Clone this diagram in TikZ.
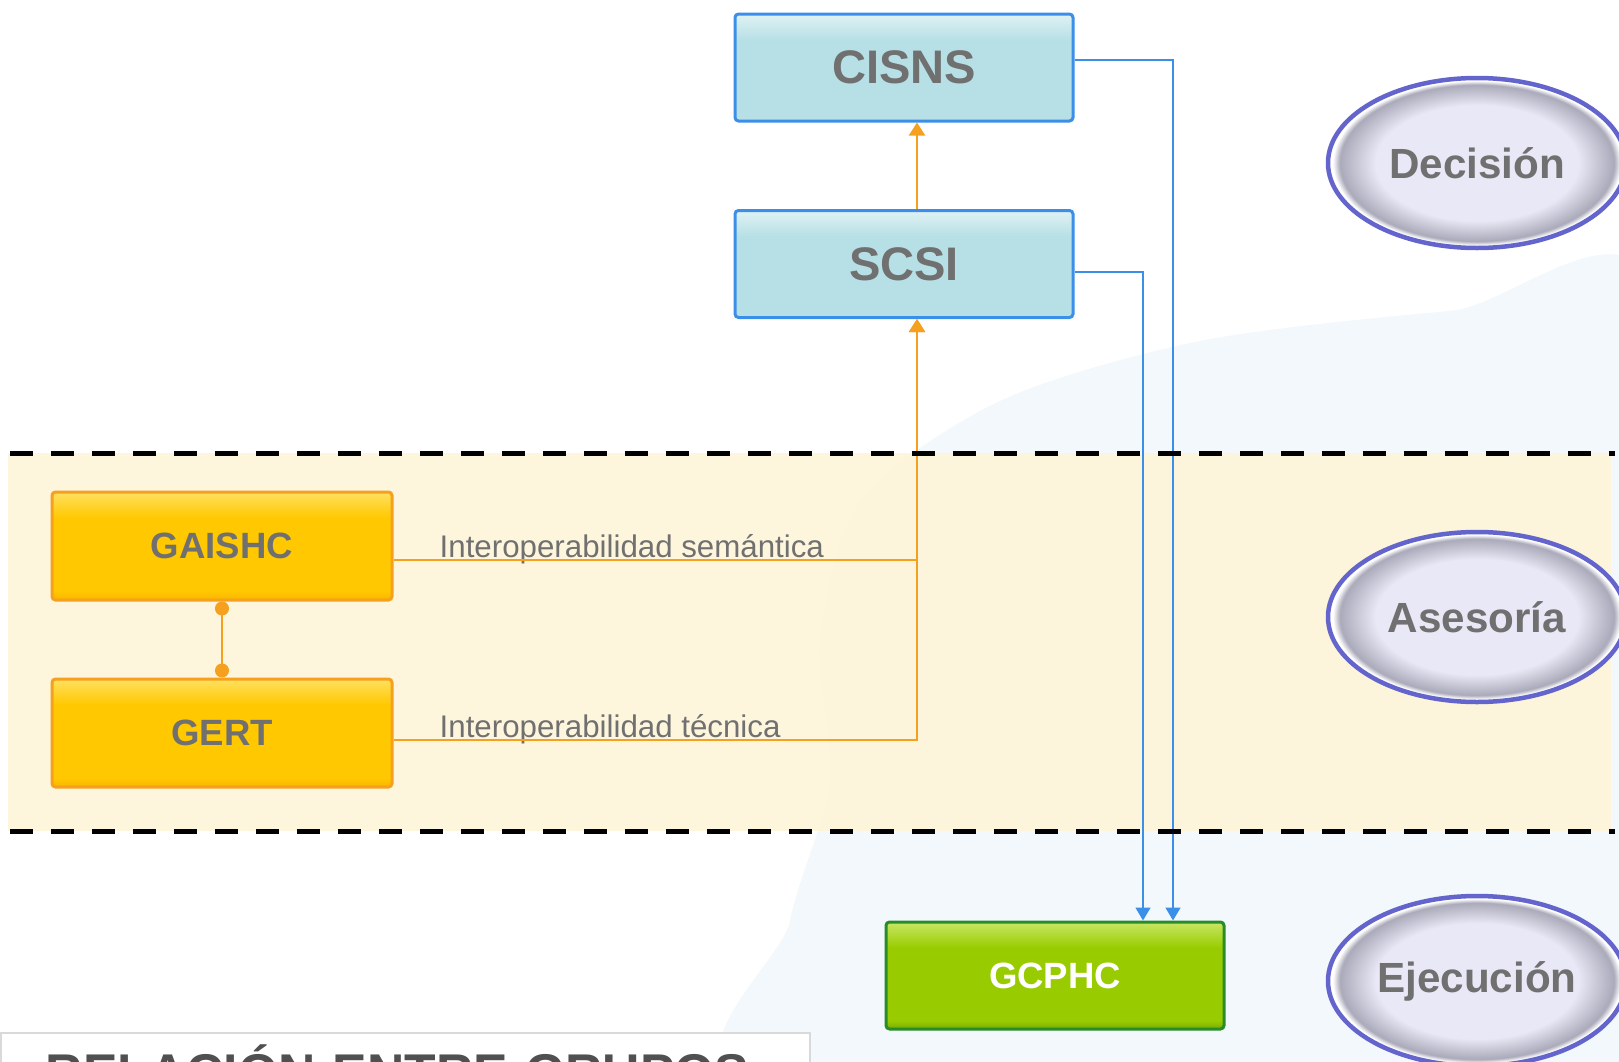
\documentclass[tikz,border=0pt]{standalone}
\usepackage{fontspec}
\setmainfont{Liberation Sans}
\usepackage{tikz}
\usetikzlibrary{arrows.meta,shapes.geometric}
\definecolor{boxgray}{RGB}{112,112,112}
\definecolor{titlegray}{RGB}{80,80,80}
\definecolor{bluefill}{RGB}{183,224,230}
\definecolor{bluetop}{RGB}{224,242,244}
\definecolor{blueline}{RGB}{60,143,232}
\definecolor{goldfill}{RGB}{255,200,0}
\definecolor{goldtop}{RGB}{255,224,96}
\definecolor{goldbottom}{RGB}{250,178,0}
\definecolor{orangeline}{RGB}{245,160,30}
\definecolor{greenfill}{RGB}{153,204,0}
\definecolor{greentop}{RGB}{200,230,100}
\definecolor{greenbottom}{RGB}{118,172,0}
\definecolor{greenline}{RGB}{40,140,40}
\definecolor{bandfill}{RGB}{254,245,216}
\definecolor{ovalfill}{RGB}{232,232,246}
\definecolor{ovalshadow}{RGB}{170,170,186}
\definecolor{ovalline}{RGB}{100,100,205}
\definecolor{mapblue}{RGB}{242,248,251}
\pgfdeclareverticalshading{blueshade}{100bp}{color(0bp)=(bluefill); color(25bp)=(bluefill); color(63bp)=(bluefill); color(75bp)=(bluetop); color(100bp)=(bluetop)}
\pgfdeclareverticalshading{goldshade}{100bp}{color(0bp)=(goldbottom); color(25bp)=(goldbottom); color(29bp)=(goldfill); color(63bp)=(goldfill); color(75bp)=(goldtop); color(100bp)=(goldtop)}
\pgfdeclareverticalshading{greenshade}{100bp}{color(0bp)=(greenbottom); color(25bp)=(greenbottom); color(29bp)=(greenfill); color(63bp)=(greenfill); color(75bp)=(greentop); color(100bp)=(greentop)}
\pgfdeclareradialshading{ovalshade}{\pgfpoint{0bp}{0bp}}{color(0bp)=(ovalfill); color(17bp)=(ovalfill); color(23bp)=(ovalshadow); color(24.2bp)=(white); color(25bp)=(white); color(50bp)=(white)}
\tikzset{group/.style = {rectangle, rounded corners=1pt, line width=0.03cm, minimum width=3.38cm, minimum height=1.07cm, text=boxgray}}
\tikzset{council/.style = {draw=blueline, shade, shading=blueshade, font=\fontsize{13.4}{16}\selectfont\bfseries}}
\tikzset{advisor/.style = {draw=orangeline, shade, shading=goldshade, minimum width=3.40cm, minimum height=1.08cm, font=\fontsize{10.4}{12}\selectfont\bfseries}}
\tikzset{executor/.style = {draw=greenline, shade, shading=greenshade, text=white, font=\fontsize{10.4}{12}\selectfont\bfseries}}
\tikzset{level/.style = {ellipse, draw=ovalline, line width=0.045cm, shade, shading=ovalshade, inner sep=0pt, minimum width=2.98cm, minimum height=1.70cm, text=boxgray, font=\fontsize{12}{14}\selectfont\bfseries}}
\tikzset{linklabel/.style = {anchor=base west, inner sep=0pt, text=boxgray, font=\fontsize{8.9}{10}\selectfont}}
\tikzset{titlebox/.style = {anchor=north west, draw=black!15, fill=white, line width=0.02cm, text width=7.19cm, inner xsep=0.45cm, inner ysep=0.12cm, align=left, text=titlegray, font=\fontsize{14.7}{18}\selectfont\bfseries}}
\tikzset{relation/.style = {draw=orangeline, line width=0.02cm, -{Triangle[width=0.16cm,length=0.13cm]}}}
\tikzset{feedback/.style = {draw=blueline, line width=0.015cm, -{Triangle[width=0.15cm,length=0.13cm]}}}
\tikzset{boundary/.style = {line width=0.05cm, dash pattern=on 0.23cm off 0.18cm}}

\begin{document}
\begin{tikzpicture}
	\useasboundingbox (0,0) rectangle (16.19,10.61);
	\clip (0,0) rectangle (16.19,10.61);
	% background
	\fill [mapblue] plot [smooth cycle] coordinates {(16.6,7.6) (14.5,7.5) (12.0,7.2) (10.0,6.6) (8.6,5.6) (8.2,4.2) (8.3,2.8) (7.9,1.4) (7.7,-0.3) (16.6,-0.3)};
	\fill [bandfill, opacity=0.9] (0.08,2.30) rectangle (16.11,6.08);
	\begin{scope}[every node/.style={group}]
		\node [council] (cisns) at (9.04,9.935) {CISNS};
		\node [council] (scsi) at (9.04,7.97) {SCSI};
		\node [advisor] (gaishc) at (2.22,5.15) {GAISHC};
		\node [advisor] (gert) at (2.22,3.28) {GERT};
		\node [executor] (gcphc) at (10.55,0.855) {GCPHC};
	\end{scope}
	\begin{scope}[every node/.style={level}]
		\node (decision) at (14.77,8.98) {Decisión};
		\node (asesoria) at (14.77,4.44) {Asesoría};
		\node (ejecucion) at (14.77,0.80) {Ejecución};
	\end{scope}
	\node [titlebox] (title) at (0,0.29) {RELACIÓN ENTRE GRUPOS};
	\begin{scope}[every node/.style={linklabel}]
		\node (semantica) at (4.39,5.04) {Interoperabilidad semántica};
		\node (tecnica) at (4.39,3.24) {Interoperabilidad técnica};
	\end{scope}
	% connectors
	\draw [relation] ([xshift=0.13cm]scsi.north) -- ([xshift=0.13cm]cisns.south);
	\draw [relation] ([yshift=-0.14cm]gaishc.east) -| ([xshift=0.13cm]scsi.south);
	\draw [relation] ([yshift=-0.07cm]gert.east) -| ([xshift=0.13cm]scsi.south);
	\draw [draw=orangeline, line width=0.02cm, {Circle[length=0.14cm]}-{Circle[length=0.14cm]}] (gaishc.south) -- (gert.north);
	\draw [feedback] ([yshift=0.075cm]cisns.east) -| ([xshift=1.18cm]gcphc.north);
	\draw [feedback] ([yshift=-0.08cm]scsi.east) -| ([xshift=0.88cm]gcphc.north);
	% band limits
	\draw [boundary] (0.10,6.08) -- (16.15,6.08);
	\draw [boundary] (0.10,2.30) -- (16.15,2.30);
\end{tikzpicture}
\end{document}
